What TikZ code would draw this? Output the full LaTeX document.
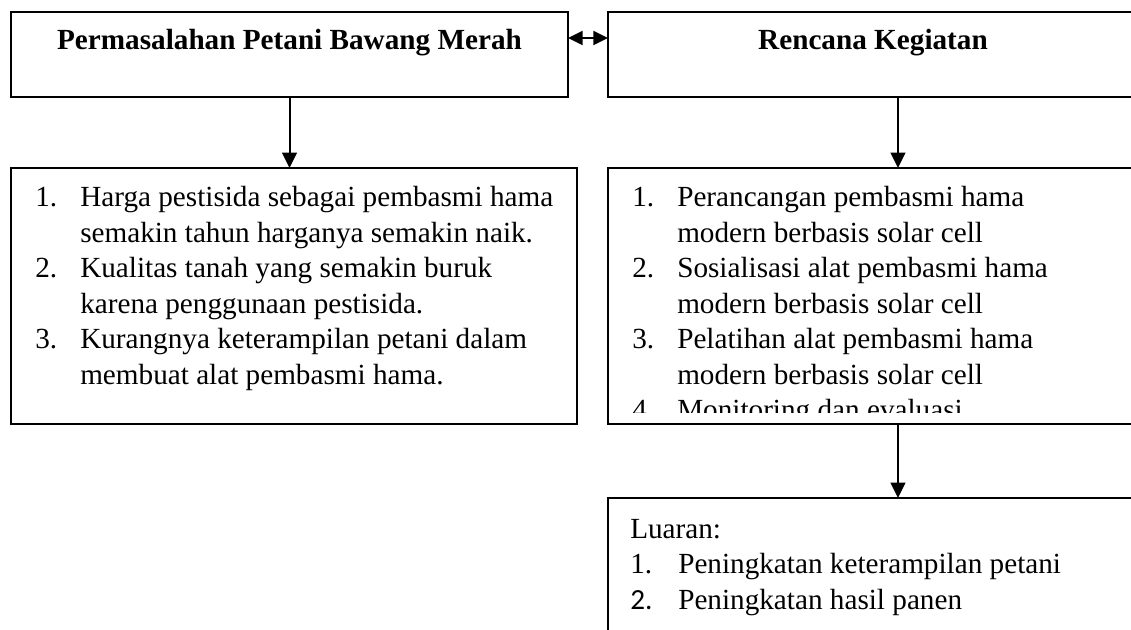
\documentclass[tikz,border=0pt]{standalone}
\usepackage{fontspec}
\setmainfont{Liberation Serif}
\newfontfamily\calfont{Carlito}
\usetikzlibrary{arrows.meta,calc}
\begin{document}
\begin{tikzpicture}[x=0.75pt,y=-0.75pt,
  box/.style={draw,line width=1.5pt,rectangle,inner sep=0pt,outer sep=0pt},
  txt/.style={inner sep=0pt,anchor=base west,font=\fontsize{21.9pt}{26.6pt}\selectfont},
  ttl/.style={inner sep=0pt,anchor=base,font=\fontsize{21.9pt}{26.6pt}\selectfont\bfseries},
  tip/.style={},
  arr/.style={line width=1.5pt,-{Triangle[length=11.5pt,width=11pt]}},
  darr/.style={line width=1.5pt,{Triangle[length=11pt,width=10.5pt]}-{Triangle[length=11pt,width=10.5pt]}}]
\useasboundingbox (0,0) rectangle (1131,630);
\clip (0,0) rectangle (1131,630);
% boxes
\node[box,minimum width=417.75pt,minimum height=63.75pt] (A) at (289.5,54.5) {};
\node[box,minimum width=435pt,minimum height=63.75pt] (B) at (898,54.5) {};
\node[box,minimum width=424.5pt,minimum height=192pt] (C) at (294,296) {};
\node[box,minimum width=435pt,minimum height=192pt] (D) at (898,296) {};
\node[box,minimum width=435pt,minimum height=166.5pt] (E) at (898,609) {};
% titles
\node[ttl] (tA) at (289.5,50) {Permasalahan Petani Bawang Merah};
\node[ttl] (tB) at (873,50) {Rencana Kegiatan};
% left list
\node[txt] (c1n) at (35,207) {1.};
\node[txt] (c1a) at (80,207) {Harga pestisida sebagai pembasmi hama};
\node[txt] (c1b) at (80,242.5) {semakin tahun harganya semakin naik.};
\node[txt] (c2n) at (35,278) {2.};
\node[txt] (c2a) at (80,278) {Kualitas tanah yang semakin buruk};
\node[txt] (c2b) at (80,313.5) {karena penggunaan pestisida.};
\node[txt] (c3n) at (35,349) {3.};
\node[txt] (c3a) at (80,349) {Kurangnya keterampilan petani dalam};
\node[txt] (c3b) at (80,384.5) {membuat alat pembasmi hama.};
% right list
\node[txt] (d1n) at (632,207) {1.};
\node[txt] (d1a) at (677,207) {Perancangan pembasmi hama};
\node[txt] (d1b) at (677,242.5) {modern berbasis solar cell};
\node[txt] (d2n) at (632,278) {2.};
\node[txt] (d2a) at (677,278) {Sosialisasi alat pembasmi hama};
\node[txt] (d2b) at (677,313.5) {modern berbasis solar cell};
\node[txt] (d3n) at (632,349) {3.};
\node[txt] (d3a) at (677,349) {Pelatihan alat pembasmi hama};
\node[txt] (d3b) at (677,384.5) {modern berbasis solar cell};
\begin{scope}
\clip (600,170) rectangle (1131,413);
\node[txt] (d4n) at (632,420) {4.};
\node[txt] (d4a) at (677,420) {Monitoring dan evaluasi};
\end{scope}
% outputs
\node[txt] (e0) at (630,538) {Luaran:};
\node[txt] (e1n) at (630,573.5) {1.};
\node[txt] (e1a) at (678,573.5) {Peningkatan keterampilan petani};
\node[txt,font=\fontsize{21.9pt}{26.6pt}\calfont] (e2n) at (630,609) {2.};
\node[txt] (e2a) at (678,609) {Peningkatan hasil panen};
% connectors
\coordinate (dy) at (0,38);
\draw[darr] (A.east |- dy) -- (B.west |- dy);
\draw[arr] (A.south) -- (A.south |- C.north);
\draw[arr] (B.south) -- (D.north);
\draw[arr] (D.south) -- (E.north);
\end{tikzpicture}
\end{document}
